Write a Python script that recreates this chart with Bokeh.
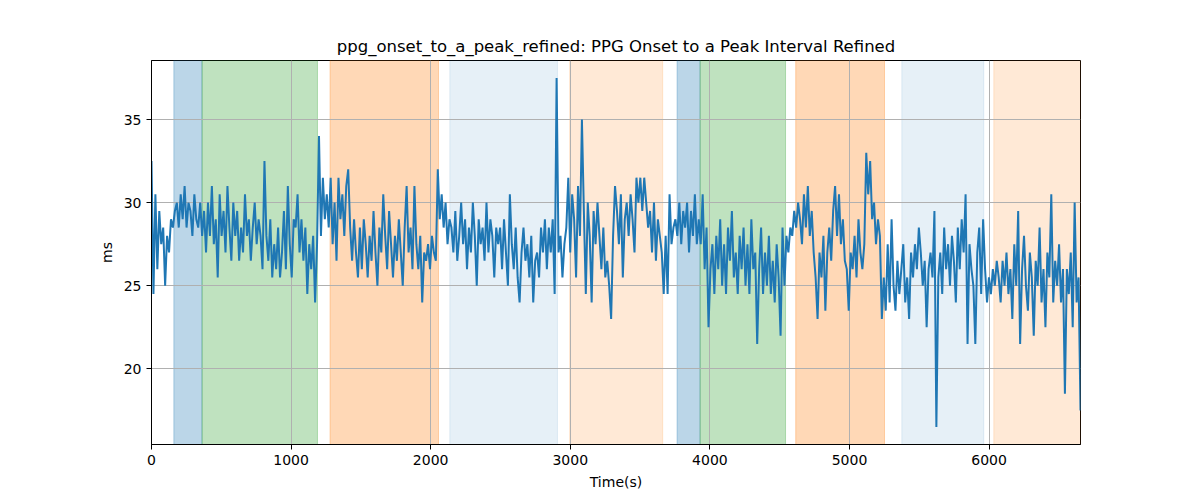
import numpy as np
from bokeh.plotting import figure
from bokeh.models import Range1d, FixedTicker
from bokeh.embed import file_html
from bokeh.resources import INLINE

title = "ppg_onset_to_a_peak_refined: PPG Onset to a Peak Interval Refined"
t_end = 6655

# values, segment by segment (ms)
seg_a = [32.5, 24.5, 30.5, 26, 29.5, 27.5, 28.5, 25, 28, 27, 29, 28.5]
seg_b = [29.5, 30, 28.5, 30.5, 29, 31, 28.5, 30, 29.5, 28, 30.5, 29, 28.5, 30, 28]
seg_c = [29.5, 27, 30, 28, 31, 27.5, 29, 25.5, 30.5, 28, 29.5, 27, 31, 28.5, 26.5, 30,
         28, 29.5, 26.5, 28.5, 27, 30.5, 28, 29, 26.5, 28.5, 30, 27.5, 29, 28, 26]
seg_d = [32.5, 28, 26.5, 29, 25.5, 27.5, 26, 28.5, 25.5, 27, 29.5, 26, 31, 27.5, 25.5,
         29, 28.5, 30.5, 27, 29, 26.5, 28.5, 24.5, 27.5, 26, 28, 24, 27.5]
seg_e = [34, 28, 31.5, 29, 30.5, 28.5, 31.5, 27.5, 30, 26.5, 31.5, 29, 30.5, 28, 31, 32, 28.5]
seg_f = [26.5, 29, 27, 25.5, 28.5, 26, 29, 27.5, 25.5, 28, 26.5, 29.5, 27, 25, 28.5,
         27, 30.5, 28, 26, 29.5, 27.5, 25.5, 28, 26.5, 29, 27, 25, 28.5, 31]
seg_g = [27, 28.5, 26, 31, 27.5, 26, 28, 24, 27, 26.5, 27.5, 26, 28, 27, 26.5]
seg_h = [32, 29, 30.5, 28.5, 30, 27.5, 29]
seg_i = [28.5, 27, 29.5, 26.5, 28, 30, 27.5, 29, 26, 28.5, 27, 30, 28, 25, 29, 27.5,
         28.5, 26.5, 30, 27, 29, 28, 25.5, 28.5, 27.5]
seg_j = [28.5, 26, 29, 27, 25, 30.5, 27.5, 26, 28.5, 25.5, 24, 27, 28.5, 26.5, 27.5,
         25.5, 28, 24, 26.5, 27, 25.5, 28.5, 27, 29, 26, 28.5, 27, 29, 24.5]
seg_k = [37.5, 27, 28, 25.5, 27.5, 28.5]
seg_l = [31.5, 27, 30.5, 29, 25.5, 31, 28, 35, 29.5, 24.5, 30, 28, 24, 29.5, 27.5, 30]
seg_m = [28, 26, 28.5, 25.5, 26.5, 25, 23]
seg_n = [28, 31, 29.5, 27.5, 30.5, 25.5, 29, 30, 28, 30.5, 29, 27, 31.5, 30, 31.5,
         29.5, 31.5, 30, 28.5, 29.5, 27, 30, 26.5, 29, 28]
seg_o = [27, 24.5, 28, 24.5, 30.5, 27.5, 28.5]
seg_p = [29, 28, 30, 27.5, 29.5, 28.5, 30, 27, 29.5, 28, 30.5, 27.5]
seg_q = [29, 27.5, 30.5, 26, 28.5, 22.5, 26, 27.5, 24.5, 28, 26, 29, 25, 27.5, 24.5,
         28.5, 26.5, 29.5, 25.5, 27, 24.5, 28, 26, 28.5, 25, 27.5, 24.5, 29, 26, 27]
seg_r = [21.5, 26, 28.5, 24.5, 27, 25, 28, 24.5, 26.5, 24, 27.5, 25.5, 22]
seg_s = [28.5, 25, 28, 27, 28.5]
seg_t = [28, 29.5, 28.5, 30, 29, 27.5, 30.5, 28.5, 31,
         28, 29.5, 27, 25.5, 23,
         27, 25.5, 28, 23.5, 27, 28.5, 26.5, 29.5, 31,
         28, 30.5, 27.5, 29, 26.5,
         26, 23.5, 27, 26, 28, 25.5, 29, 27, 26, 27.5,
         33, 30.5, 32.5, 29, 30, 27.5, 29, 28]
seg_u = [23, 25.5, 23.5, 27.5, 24, 29, 25, 23.5, 26.5, 24.5]
seg_v = [26, 27.5, 24, 25.5, 23, 27, 25.5, 27.5, 26, 28.5, 27, 25, 26.5, 22.5, 26, 27, 25.5]
seg_w = [29.5, 16.5]
seg_x = [25.5, 27, 24.5, 28.5, 26, 27.5, 25, 28, 26.5, 24, 28.5, 26, 29, 27, 30.5,
         21.5, 27.5, 26, 25, 21.5, 27, 28.5, 24.5, 29]
seg_y = [26, 24, 25.5, 24.5, 26, 25, 26.5]
seg_z = [25.5, 24, 26.5, 25, 27, 24.5, 26, 23, 27.5, 25, 29.5,
         21.5, 26, 28, 25, 23.5, 27, 25.5, 22, 26.5, 25, 28.5, 24, 26, 22.5, 27, 25.5, 30.5,
         24, 26.5, 25, 27.5, 24, 26, 18.5, 26, 24.5, 27, 22.5, 30, 24, 25.5, 17.5]

ms = (seg_a + seg_b + seg_c + seg_d + seg_e + seg_f + seg_g + seg_h + seg_i + seg_j
      + seg_k + seg_l + seg_m + seg_n + seg_o + seg_p + seg_q + seg_r + seg_s + seg_t
      + seg_u + seg_v + seg_w + seg_x + seg_y + seg_z)
time_s = np.linspace(0, t_end, len(ms))

# shaded phases
span_start = [160, 362, 1279, 2137, 2996, 3765, 3930, 4615, 5375, 6034]
span_end = [362, 1189, 2056, 2908, 3662, 3930, 4542, 5251, 5962, 6655]
span_color = ["#1f77b4", "#2ca02c", "#ff7f0e", "#1f77b4", "#ff7f0e",
              "#1f77b4", "#2ca02c", "#ff7f0e", "#1f77b4", "#ff7f0e"]
span_alpha = [0.3, 0.3, 0.3, 0.11, 0.17, 0.3, 0.3, 0.3, 0.11, 0.17]

x_ticks = [0, 1000, 2000, 3000, 4000, 5000, 6000]
y_ticks = [20, 25, 30, 35]

p = figure(width=1184, height=492, output_backend="svg", toolbar_location=None,
           x_range=Range1d(0, t_end), y_range=Range1d(15.45, 38.55),
           title=title)
p.min_border_left = 151
p.min_border_right = 104
p.min_border_top = 60
p.min_border_bottom = 47

p.quad(left=span_start, right=span_end, bottom=0, top=100,
       fill_color=span_color, fill_alpha=span_alpha,
       line_color=span_color, line_alpha=span_alpha, line_width=1,
       level="underlay")

p.line(time_s, ms, line_color="#1f77b4", line_width=2)

p.title.text_font = "DejaVu Sans"
p.title.text_font_size = "16.5px"
p.title.text_font_style = "normal"
p.title.align = "center"
p.title.text_color = "black"

p.xaxis.ticker = FixedTicker(ticks=x_ticks)
p.yaxis.ticker = FixedTicker(ticks=y_ticks)
p.xaxis.axis_label = "Time(s)"
p.yaxis.axis_label = "ms"
for ax in (p.xaxis, p.yaxis):
    ax.axis_label_text_font = "DejaVu Sans"
    ax.axis_label_text_font_size = "14px"
    ax.axis_label_text_font_style = "normal"
    ax.axis_label_text_color = "black"
    ax.major_label_text_font = "DejaVu Sans"
    ax.major_label_text_font_size = "14px"
    ax.major_label_text_color = "black"
    ax.axis_line_color = "black"
    ax.major_tick_line_color = "black"
    ax.major_tick_out = 5
    ax.major_tick_in = 0
    ax.minor_tick_line_color = None
    ax.axis_label_standoff = 6

p.grid.grid_line_color = "#b0b0b0"
p.grid.grid_line_width = 1
p.outline_line_color = "black"
p.outline_line_alpha = 1
p.outline_line_width = 1

open("out.html", "w").write(file_html(p, INLINE))
